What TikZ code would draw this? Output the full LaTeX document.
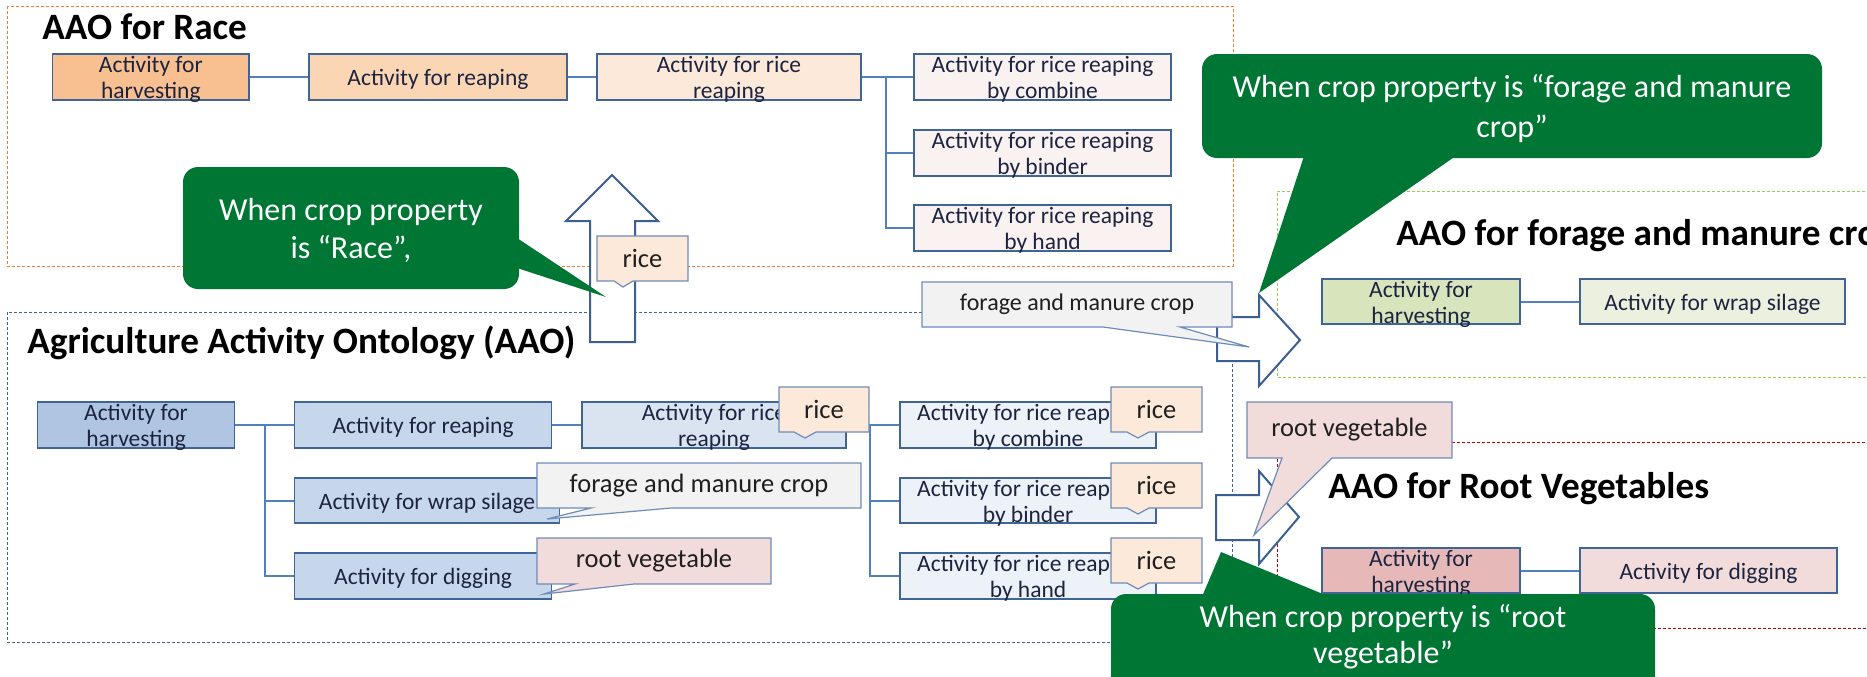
\documentclass[tikz,border=0pt]{standalone}
\usepackage{fontspec}
\setmainfont{Carlito}

\definecolor{boxline}{RGB}{65,100,150}
\definecolor{conn}{RGB}{79,129,189}
\definecolor{boxtext}{RGB}{28,36,64}
\definecolor{raceA}{RGB}{248,192,144}
\definecolor{raceB}{RGB}{251,214,181}
\definecolor{raceC}{RGB}{253,233,217}
\definecolor{raceD}{RGB}{250,241,241}
\definecolor{aaoA}{RGB}{176,197,226}
\definecolor{aaoB}{RGB}{198,214,235}
\definecolor{aaoC}{RGB}{218,228,241}
\definecolor{aaoD}{RGB}{237,242,248}
\definecolor{fmA}{RGB}{216,228,188}
\definecolor{fmB}{RGB}{235,241,222}
\definecolor{rvA}{RGB}{230,185,184}
\definecolor{rvB}{RGB}{242,220,219}
\definecolor{tagrice}{RGB}{253,233,217}
\definecolor{tagfm}{RGB}{242,242,242}
\definecolor{tagrv}{RGB}{242,220,219}
\definecolor{tagline}{RGB}{110,140,185}
\definecolor{notegreen}{RGB}{0,118,52}
\definecolor{arrowline}{RGB}{59,95,147}
\definecolor{frRace}{RGB}{237,125,49}
\definecolor{frAAO}{RGB}{68,100,150}
\definecolor{frFM}{RGB}{146,208,80}
\definecolor{frRV}{RGB}{192,0,0}

% activity box given by its corners (in picture units of 0.5pt);
% the label sits a little below the box centre
\newcommand\actnode[7]{%
  \pgfmathsetmacro\actcx{(#2+#4)/2}%
  \pgfmathsetmacro\actcy{(#3+#5)/2}%
  \pgfmathsetmacro\actw{(#4-#2)*0.5}%
  \pgfmathsetmacro\acth{(#5-#3)*0.5}%
  \node[actbox, fill=#6, minimum width=\actw pt, minimum height=\acth pt]
    (#1) at (\actcx,\actcy) {};%
  \node[acttext] (#1-label) at (\actcx,\actcy+2.5) {#7};%
}

\begin{document}
\begin{tikzpicture}[x=0.5pt,y=-0.5pt,
  actbox/.style={draw=boxline, line width=0.75pt, inner sep=0pt},
  acttext/.style={inner sep=0pt, align=center, text=boxtext,
    font=\fontsize{11.75pt}{13.1pt}\selectfont},
  framebox/.style={line width=0.5pt, dash pattern=on 1.5pt off 1pt},
  link/.style={draw=conn, line width=1pt},
  tag/.style={draw=tagline, line width=0.6pt, line join=miter},
  tagtext/.style={text=black!88, inner sep=0pt, font=\fontsize{13.25pt}{15pt}\selectfont},
  notefill/.style={fill=notegreen},
  notetext/.style={text=white, inner sep=0pt, anchor=base, font=\fontsize{16pt}{19.5pt}\selectfont},
  bigarrow/.style={draw=arrowline, fill=white, line width=1pt, line join=miter},
  heading/.style={anchor=base west, inner sep=0pt, text=black,
    font=\fontsize{18.6pt}{22pt}\selectfont\bfseries}
]
\useasboundingbox (0,0) rectangle (1867,676);
\fill[white] (0,0) rectangle (1867,676);

% ---------- dashed frames of the four ontologies ----------
\draw[framebox, draw=frRace] (7,6) rectangle (1233,266);
\draw[framebox, draw=frAAO] (7,312) rectangle (1232,642);
\draw[framebox, draw=frFM] (1900,191) -- (1277,191) -- (1277,377) -- (1900,377);
\draw[framebox, draw=frRV] (1900,442) -- (1277,442) -- (1277,628) -- (1900,628);

% ---------- headings ----------
\node[heading] (tRace) at (42,39) {AAO for Race};
\node[heading] (tAAO) at (27,353) {Agriculture Activity Ontology (AAO)};
\node[heading] (tFM) at (1396,245) {AAO for forage and manure crop};
\node[heading] (tRV) at (1328,498) {AAO for Root Vegetables};

% ---------- AAO for Race ----------
\actnode{r1}{52.7}{54}{249}{100}{raceA}{Activity for\\harvesting}
\actnode{r2}{309}{54}{567}{100}{raceB}{Activity for reaping}
\actnode{r3}{597}{54}{861}{100}{raceC}{Activity for rice\\reaping}
\actnode{r4a}{914}{54}{1171}{100}{raceD}{Activity for rice reaping\\by combine}
\actnode{r4b}{914}{130}{1171}{176}{raceD}{Activity for rice reaping\\by binder}
\actnode{r4c}{914}{205}{1171}{251}{raceD}{Activity for rice reaping\\by hand}
\draw[link] (r1.east) -- (r2.west);
\draw[link] (r2.east) -- (r3.west);
\draw[link] (r3.east) -- ++(24,0) coordinate (jr) -- (r4a.west);
\draw[link] (jr) |- (r4b.west);
\draw[link] (jr) |- (r4c.west);

% ---------- Agriculture Activity Ontology ----------
\actnode{a1}{37.6}{402}{234.5}{448}{aaoA}{Activity for\\harvesting}
\actnode{a2}{294.6}{402}{551.6}{448}{aaoB}{Activity for reaping}
\actnode{a3}{294.6}{478}{559.5}{523}{aaoB}{Activity for wrap silage}
\actnode{a4}{294.6}{553}{551.6}{599}{aaoB}{Activity for digging}
\actnode{a5}{582}{402}{846}{448}{aaoC}{Activity for rice\\reaping}
\actnode{a6a}{900}{402}{1156}{448}{aaoD}{Activity for rice reaping\\by combine}
\actnode{a6b}{900}{478}{1156}{523}{aaoD}{Activity for rice reaping\\by binder}
\actnode{a6c}{900}{553}{1156}{599}{aaoD}{Activity for rice reaping\\by hand}
\draw[link] (a1.east) -- ++(29.5,0) coordinate (ja) -- (a2.west);
\draw[link] (ja) |- (a3.west);
\draw[link] (ja) |- (a4.west);
\draw[link] (a2.east) -- (a5.west);
\draw[link] (a5.east) -- ++(23,0) coordinate (jb) -- (a6a.west);
\draw[link] (jb) |- (a6b.west);
\draw[link] (jb) |- (a6c.west);

% ---------- AAO for forage and manure crop ----------
\actnode{f1}{1322}{279}{1520}{324}{fmA}{Activity for\\harvesting}
\actnode{f2}{1580}{279}{1845}{324}{fmB}{Activity for wrap silage}
\draw[link] (f1.east) -- (f2.west);

% ---------- AAO for Root Vegetables ----------
\actnode{v1}{1322}{548}{1520}{593}{rvA}{Activity for\\harvesting}
\actnode{v2}{1580}{548}{1837}{593}{rvB}{Activity for digging}
\draw[link] (v1.east) -- (v2.west);

% ---------- block arrow up to the Race ontology ----------
\draw[bigarrow] (612,175) -- (658,221) -- (635,221) -- (635,342) -- (590,342)
  -- (590,221) -- (566,221) -- cycle;
\draw[tag, fill=tagrice] (597,236) -- (688,236) -- (688,281) -- (633,281) -- (623,287)
  -- (614,281) -- (597,281) -- cycle;
\node[tagtext] (kUp) at (642.5,258.5) {rice};

% green note for rice
\fill[notefill, rounded corners=7.5pt] (183,167) rectangle (519,289);
\fill[notefill] (514,236) -- (606,297) -- (514,267) -- cycle;
\node[notetext] (n1a) at (351,220) {When crop property};
\node[notetext] (n1b) at (351,258) {is “Race”,};

% ---------- crop tags on AAO classes ----------
\draw[tag, fill=tagrice] (779,387) -- (869,387) -- (869,432) -- (816,432) -- (805,438)
  -- (794,432) -- (779,432) -- cycle;
\node[tagtext] (k5) at (824,409.5) {rice};
\foreach \yt/\nm in {387/k6a, 463/k6b, 538/k6c}{
  \draw[tag, fill=tagrice] (1111,\yt) -- (1202,\yt) -- (1202,\yt+45) -- (1149,\yt+45)
    -- (1138,\yt+51) -- (1127,\yt+45) -- (1111,\yt+45) -- cycle;
  \node[tagtext] (\nm) at (1156.5,\yt+22.5) {rice};
}
\draw[tag, fill=tagfm] (537,463) -- (861,463) -- (861,508) -- (671,508) -- (547,519)
  -- (591,508) -- (537,508) -- cycle;
\node[tagtext] (k3) at (699,485.5) {forage and manure crop};
\draw[tag, fill=tagrv] (537,538) -- (771,538) -- (771,584) -- (634,584) -- (544,594)
  -- (575,584) -- (537,584) -- cycle;
\node[tagtext] (k4) at (654,561) {root vegetable};

% ---------- block arrows to the right ----------
\draw[bigarrow] (1217,317) -- (1259,317) -- (1259,295) -- (1300,340) -- (1259,386)
  -- (1259,361) -- (1217,361) -- cycle;
\draw[bigarrow] (1216,495) -- (1259,495) -- (1259,471) -- (1299,517) -- (1259,564)
  -- (1259,540) -- (1216,540) -- cycle;
\draw[tag, fill=tagfm] (922,282) -- (1232,282) -- (1232,327) -- (1180,327) -- (1249,347)
  -- (1103,327) -- (922,327) -- cycle;
\node[tagtext, font=\fontsize{12pt}{14pt}\selectfont] (kFM) at (1077,304.5) {forage and manure crop};
\draw[tag, fill=tagrv] (1247,402) -- (1452,402) -- (1452,458) -- (1332,458) -- (1254,535)
  -- (1282,458) -- (1247,458) -- cycle;
\node[tagtext] (kRV) at (1349.5,430) {root vegetable};

% green note for forage and manure crop
\fill[notefill, rounded corners=7.5pt] (1202,54) rectangle (1822,158);
\fill[notefill] (1305,153) -- (1259,293) -- (1460,153) -- cycle;
\node[notetext] (n2a) at (1512,97) {When crop property is “forage and manure};
\node[notetext] (n2b) at (1512,137) {crop”};

% green note for root vegetable
\fill[notefill, rounded corners=7.5pt] (1111,594) rectangle (1655,700);
\fill[notefill] (1201,599) -- (1221,552) -- (1335,599) -- cycle;
\node[notetext] (n3a) at (1383,627) {When crop property is “root};
\node[notetext] (n3b) at (1383,663) {vegetable”};
\end{tikzpicture}
\end{document}
